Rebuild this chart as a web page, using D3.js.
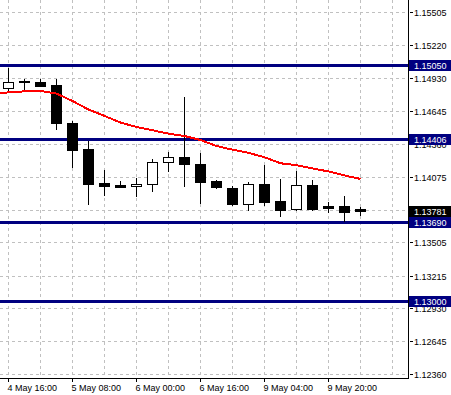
<!DOCTYPE html>
<html>
<head>
<meta charset="utf-8">
<script src="https://cdn.jsdelivr.net/npm/d3@7"></script>
<style>
  html, body { margin: 0; padding: 0; background: #fff; }
  svg { display: block; }
  text { font-family: "Liberation Sans", Arial, sans-serif; font-size: 9px; }
</style>
</head>
<body>
<script>
// ---- data ----
const opens  = [1.14847,1.14907,1.14900,1.14876,1.14546,1.14320,1.14022,1.14005,1.13996,1.14014,1.14205,1.14248,1.14187,1.14042,1.13982,1.13845,1.14014,1.13869,1.13802,1.14008,1.13825,1.13825,1.13795];
const highs  = [1.15030,1.14934,1.14934,1.14934,1.14572,1.14398,1.14147,1.14051,1.14080,1.14245,1.14303,1.14781,1.14294,1.14060,1.14008,1.14040,1.14190,1.14071,1.14138,1.14060,1.13869,1.13921,1.13825];
const lows   = [1.14818,1.14833,1.14867,1.14494,1.14166,1.13843,1.13921,1.13990,1.13912,1.13958,1.14132,1.13999,1.13854,1.13984,1.13831,1.13790,1.13834,1.13741,1.13790,1.13790,1.13773,1.13695,1.13747];
const closes = [1.14905,1.14900,1.14870,1.14543,1.14314,1.14019,1.14002,1.13993,1.14014,1.14205,1.14248,1.14193,1.14036,1.13993,1.13845,1.14014,1.13862,1.13790,1.14005,1.13796,1.13810,1.13773,1.13781];
// moving average, starting one bar before the first visible candle (index -1)
const maValues = [1.14807,1.14811,1.14821,1.14824,1.14801,1.14737,1.14663,1.14607,1.14550,1.14511,1.14483,1.14453,1.14433,1.14398,1.14346,1.14314,1.14287,1.14248,1.14196,1.14179,1.14151,1.14125,1.14090,1.14060];
const priceTicks = [1.15505,1.15220,1.14930,1.14645,1.14360,1.14075,1.13790,1.13505,1.13215,1.12930,1.12645,1.12360];
const levelLines = [1.15050,1.14406,1.13690,1.13000];
const lastPrice = 1.13781;
const timeLabels = ["4 May 16:00","5 May 08:00","6 May 00:00","6 May 16:00","9 May 04:00","9 May 20:00"];
const timeLabelIdx = [0,4,8,12,16,20];

// ---- layout ----
const W = 451, H = 395;
const plotRight = 408, plotBottom = 378;

const svg = d3.select("body").append("svg").attr("width", W).attr("height", H);

const x = d3.scaleLinear().domain([0, 1]).range([8.5, 24.5]);
const y = d3.scaleLinear().domain([1.12360, 1.15505]).range([374.6, 12.6]);
const py = v => Math.floor(y(v)) + 0.5;

// gridlines
const grid = svg.append("g").attr("stroke", "#c0c0c0").attr("stroke-dasharray", "3,3").attr("shape-rendering", "crispEdges");
grid.selectAll("line.h").data(priceTicks).join("line")
  .attr("x1", 0).attr("x2", plotRight).attr("y1", d => py(d)).attr("y2", d => py(d));
const vIdx = d3.range(0, 25, 2);
grid.selectAll("line.v").data(vIdx).join("line")
  .attr("x1", d => Math.floor(x(d)) + 0.5).attr("x2", d => Math.floor(x(d)) + 0.5)
  .attr("y1", 0).attr("y2", plotBottom);

// level lines
svg.append("g").selectAll("line").data(levelLines).join("line")
  .attr("x1", 0).attr("x2", plotRight)
  .attr("y1", d => Math.round(y(d)) + 0.5).attr("y2", d => Math.round(y(d)) + 0.5)
  .attr("stroke", "#000080").attr("stroke-width", 3).attr("shape-rendering", "crispEdges");

// candles
const candles = d3.range(opens.length).map(i => ({i, o: opens[i], h: highs[i], l: lows[i], c: closes[i]}));
const cg = svg.append("g").attr("shape-rendering", "crispEdges");
cg.selectAll("line").data(candles).join("line")
  .attr("x1", d => Math.floor(x(d.i)) + 0.5).attr("x2", d => Math.floor(x(d.i)) + 0.5)
  .attr("y1", d => Math.round(y(d.h)) + 0.5).attr("y2", d => Math.round(y(d.l)) + 0.5)
  .attr("stroke", "#000");
cg.selectAll("path").data(candles).join("path")
  .attr("d", d => {
    const cx = Math.floor(x(d.i));
    const x0 = cx - 5 + 0.5, x1 = cx + 5 + 0.5;
    const yt = Math.round(y(Math.max(d.o, d.c))) + 0.5;
    let yb = Math.round(y(Math.min(d.o, d.c))) + 0.5;
    if (yb - yt < 1) yb = yt + 1;
    return `M${x0},${yt}H${x1}V${yb}H${x0}Z`;
  })
  .attr("fill", d => d.c > d.o ? "#fff" : "#000")
  .attr("stroke", "#000");

// moving average
const maLine = d3.line().x((d, k) => x(k - 1)).y(d => y(d));
svg.append("path").datum(maValues).attr("d", maLine)
  .attr("fill", "none").attr("stroke", "#ff0000").attr("stroke-width", 2)
  .attr("shape-rendering", "crispEdges");

// white area for axis region (covers nothing since plot ends at axis)
// axes lines
svg.append("line").attr("x1", plotRight + 0.5).attr("x2", plotRight + 0.5).attr("y1", 0).attr("y2", plotBottom + 1)
  .attr("stroke", "#000").attr("shape-rendering", "crispEdges");
svg.append("line").attr("x1", 0).attr("x2", plotRight + 1).attr("y1", plotBottom + 0.5).attr("y2", plotBottom + 0.5)
  .attr("stroke", "#000").attr("shape-rendering", "crispEdges");

// y tick marks and labels
const yAx = svg.append("g");
yAx.selectAll("line").data(priceTicks).join("line")
  .attr("x1", plotRight + 2).attr("x2", plotRight + 5)
  .attr("y1", d => py(d)).attr("y2", d => py(d))
  .attr("stroke", "#000").attr("shape-rendering", "crispEdges");
yAx.selectAll("text").data(priceTicks).join("text")
  .attr("x", 414).attr("y", d => py(d) + 3.5)
  .attr("fill", "#000")
  .text(d => d.toFixed(5));

// x tick marks and labels
const xAx = svg.append("g");
xAx.selectAll("line").data(timeLabelIdx).join("line")
  .attr("x1", d => Math.floor(x(d)) + 0.5).attr("x2", d => Math.floor(x(d)) + 0.5)
  .attr("y1", plotBottom).attr("y2", plotBottom + 4)
  .attr("stroke", "#000").attr("shape-rendering", "crispEdges");
xAx.selectAll("text").data(timeLabelIdx).join("text")
  .attr("x", d => Math.floor(x(d)) - 0.5).attr("y", 391)
  .attr("fill", "#000")
  .text((d, k) => timeLabels[k]);

// level labels
const lvl = svg.append("g");
const boxes = levelLines.map(v => ({v, bg: "#000080"})).concat([{v: lastPrice, bg: "#000"}]);
lvl.selectAll("rect").data(boxes).join("rect")
  .attr("x", plotRight + 1).attr("width", W - plotRight - 1)
  .attr("y", d => Math.round(y(d.v)) - 5).attr("height", 11)
  .attr("fill", d => d.bg);
lvl.selectAll("text").data(boxes).join("text")
  .attr("x", 414).attr("y", d => Math.round(y(d.v)) + 4)
  .attr("fill", "#fff")
  .text(d => d.v.toFixed(5));
</script>
</body>
</html>
